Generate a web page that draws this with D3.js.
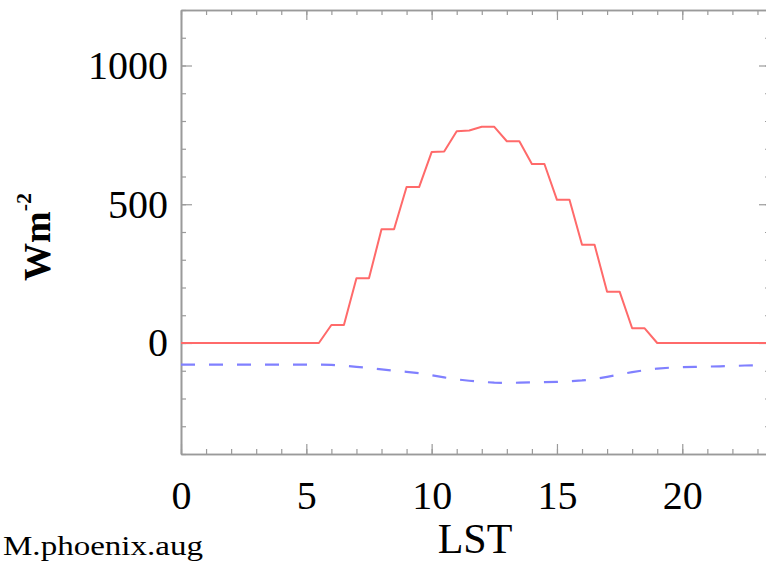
<!DOCTYPE html>
<html>
<head>
<meta charset="utf-8">
<script src="https://cdn.jsdelivr.net/npm/d3@7"></script>
<style>
  html, body { margin: 0; padding: 0; background: #fff; }
  svg { display: block; }
  .tick text { font-family: "Liberation Serif", "Times New Roman", serif; fill: #000; }
</style>
</head>
<body>
<svg id="chart" width="766" height="561"></svg>
<script>
// ---- data ----
const hours = [0,0.5,1,1.5,2,2.5,3,3.5,4,4.5,5,5.5,6,6.5,7,7.5,8,8.5,9,9.5,10,10.5,11,11.5,
               12,12.5,13,13.5,14,14.5,15,15.5,16,16.5,17,17.5,18,18.5,19,19.5,20,20.5,21,21.5,22,22.5,23,23.5];
const solarValues = [0,0,0,0,0,0,0,0,0,0,0,0,65,65,233,233,410,410,562,562,688,690,763,766,
                     779,779,727,727,645,645,516,516,354,354,185,185,53,53,0,0,0,0,0,0,0,0,0,0];
const longwaveValues = [-78,-78,-78,-78,-78,-78,-78,-78,-78,-78,-78,-78,-79,-82,-86,-90,-95,-100,-104,-109,-116,-124,-131,-136,
                        -140,-143,-144,-143,-142,-141,-140,-138,-135,-130,-122,-113,-105,-98,-92,-89,-87,-86,-85,-84,-83,-81,-80,-79];
const xTickLabels = [0, 5, 10, 15, 20];
const yTickLabels = [0, 500, 1000];
const xMinorTicks = [0,1,2,3,4,5,6,7,8,9,10,11,12,13,14,15,16,17,18,19,20,21,22,23];
const yMinorTicks = [-400,-300,-200,-100,0,100,200,300,400,500,600,700,800,900,1000,1100,1200];

// ---- layout ----
const plotLeft = 181, plotRight = 770, plotTop = 10, plotBottom = 454;
const svg = d3.select("#chart");
const x = d3.scaleLinear().domain([0, 23.5]).range([plotLeft, plotRight]);
const y = d3.scaleLinear().domain([-400, 1200]).range([plotBottom, plotTop]);

const axisColor = "#9a9a9a";
const serif = "'Liberation Serif', 'Times New Roman', serif";
const fmt = d3.format("d");

function styleAxis(g) {
  g.select(".domain").attr("stroke", axisColor).attr("stroke-width", 1.6);
  g.selectAll(".tick line").attr("stroke", axisColor).attr("stroke-width", 1.2);
}

// frame: bottom (labelled)
svg.append("g").attr("transform", `translate(0,${plotBottom})`)
  .call(d3.axisBottom(x).tickValues(xMinorTicks).tickSize(-5).tickFormat("").tickSizeOuter(0))
  .call(styleAxis);
svg.append("g").attr("transform", `translate(0,${plotBottom})`)
  .call(d3.axisBottom(x).tickValues(xTickLabels).tickSize(-10).tickPadding(27).tickFormat(fmt).tickSizeOuter(0))
  .call(styleAxis)
  .call(g => g.selectAll(".tick text").attr("font-size", 40).attr("font-family", serif));
// top
svg.append("g").attr("transform", `translate(0,${plotTop})`)
  .call(d3.axisTop(x).tickValues(xMinorTicks).tickSize(-5).tickFormat("").tickSizeOuter(0))
  .call(styleAxis);
svg.append("g").attr("transform", `translate(0,${plotTop})`)
  .call(d3.axisTop(x).tickValues(xTickLabels).tickSize(-10).tickFormat("").tickSizeOuter(0))
  .call(styleAxis);
// left (labelled)
svg.append("g").attr("transform", `translate(${plotLeft},0)`)
  .call(d3.axisLeft(y).tickValues(yMinorTicks).tickSize(-5).tickFormat("").tickSizeOuter(0))
  .call(styleAxis);
svg.append("g").attr("transform", `translate(${plotLeft},0)`)
  .call(d3.axisLeft(y).tickValues(yTickLabels).tickSize(-11).tickPadding(13).tickFormat(fmt).tickSizeOuter(0))
  .call(styleAxis)
  .call(g => g.selectAll(".tick text").attr("font-size", 40).attr("font-family", serif));
// right
svg.append("g").attr("transform", `translate(${plotRight},0)`)
  .call(d3.axisRight(y).tickValues(yMinorTicks).tickSize(-5).tickFormat("").tickSizeOuter(0))
  .call(styleAxis);
svg.append("g").attr("transform", `translate(${plotRight},0)`)
  .call(d3.axisRight(y).tickValues(yTickLabels).tickSize(-11).tickFormat("").tickSizeOuter(0))
  .call(styleAxis);

// ---- lines ----
const line = d3.line().x((d) => x(d[0])).y((d) => y(d[1]));
svg.append("path")
  .datum(hours.map((h, i) => [h, longwaveValues[i]]))
  .attr("d", line)
  .attr("fill", "none")
  .attr("stroke", "#8080ff")
  .attr("stroke-width", 2.2)
  .attr("stroke-dasharray", "14,14");
svg.append("path")
  .datum(hours.map((h, i) => [h, solarValues[i]]))
  .attr("d", line)
  .attr("fill", "none")
  .attr("stroke", "#ff6a6a")
  .attr("stroke-width", 2)
  .attr("stroke-linejoin", "round");

// ---- labels ----
svg.append("text")
  .attr("x", 475).attr("y", 553)
  .attr("text-anchor", "middle")
  .attr("font-family", serif).attr("font-size", 42)
  .text("LST");

const yl = svg.append("text")
  .attr("transform", "translate(50,281) rotate(-90)")
  .attr("font-family", serif).attr("font-size", 38).attr("font-weight", "bold");
yl.append("tspan").text("Wm");
yl.append("tspan").attr("dy", -19).attr("font-size", 22).text("-2");

svg.append("text")
  .attr("x", 3).attr("y", 555)
  .attr("font-family", serif).attr("font-size", 27)
  .attr("textLength", 200).attr("lengthAdjust", "spacingAndGlyphs")
  .text("M.phoenix.aug");
</script>
</body>
</html>
